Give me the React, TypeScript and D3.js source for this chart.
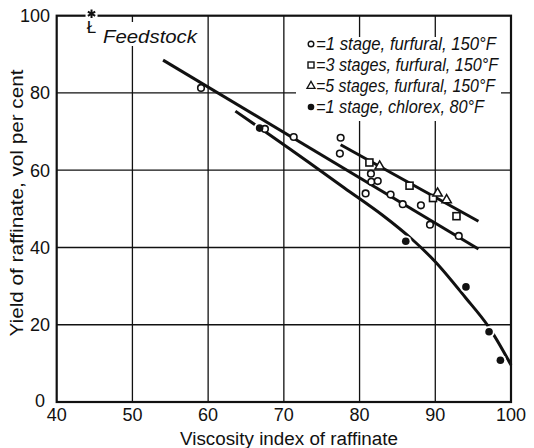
import React from "react";
import * as d3 from "d3";

const xTicks = [40, 50, 60, 70, 80, 90, 100];
const yTicks = [0, 20, 40, 60, 80, 100];

// 1 stage, furfural, 150F (open circles)
const furfural1 = [
  [59.06, 81.3], [67.5, 70.7], [71.3, 68.6], [77.5, 68.4], [77.4, 64.3],
  [81.5, 59.1], [81.55, 57.0], [82.4, 57.2], [80.8, 54.0], [84.1, 53.7],
  [85.7, 51.2], [88.1, 50.9], [89.3, 45.9], [93.1, 43.0],
];
// 3 stages, furfural (open squares)
const furfural3 = [[81.3, 62.0], [86.6, 56.0], [89.7, 52.8], [92.8, 48.1]];
// 5 stages, furfural (open triangles)
const furfural5 = [[82.65, 61.0], [90.3, 54.0], [91.5, 52.3]];
// 1 stage, chlorex, 80F (filled dots)
const chlorex = [[66.8, 70.9], [86.1, 41.6], [94.05, 29.8], [97.1, 18.2], [98.6, 10.8]];

// fitted lines
const line1 = [[54.05, 88.5], [95.7, 39.6]];
const line2 = [[77.5, 66.6], [95.7, 46.8]];
const chlorexCurve = [
  [63.6, 75.3], [70.8, 65.5], [78, 55.4], [83, 48.4], [87, 42.0],
  [90, 36.3], [94, 27.0], [97, 19.6], [100, 9.6],
];
const feedstock = [44.6, 100];

const legendLabels = [
  "=1 stage, furfural, 150°F",
  "=3 stages, furfural, 150°F",
  "=5 stages, furfural, 150°F",
  "=1 stage, chlorex, 80°F",
];
const legendWidths = [180, 182, 179, 168];

export default function App() {
  const x = d3.scaleLinear().domain([40, 100]).range([56.7, 511]);
  const y = d3.scaleLinear().domain([0, 100]).range([402, 15.7]);
  const line = d3.line<number[]>().x((d) => x(d[0])).y((d) => y(d[1]));
  const curve = d3
    .line<number[]>()
    .x((d) => x(d[0]))
    .y((d) => y(d[1]))
    .curve(d3.curveCatmullRom);
  const ink = "#111";
  const font = "'Liberation Sans', Arial, sans-serif";
  const tri = d3.symbol().type(d3.symbolTriangle).size(38)();
  const star = d3.symbol().type(d3.symbolAsterisk).size(50)();

  return (
    <div style={{ position: "absolute", left: 0, top: 0 }}>
      <svg width={534} height={448} style={{ display: "block", background: "#fff" }}>
        <defs>
          <mask id="gapMask" maskUnits="userSpaceOnUse" x={0} y={0} width={534} height={448}>
            <rect x={0} y={0} width={534} height={448} fill="#fff" />
            {chlorex.map((d, i) => (
              <circle key={i} cx={x(d[0])} cy={y(d[1])} r={5.8} fill="#000" />
            ))}
          </mask>
        </defs>
        {/* grid */}
        {xTicks.slice(1, -1).map((t) => (
          <line key={"gx" + t} x1={x(t)} x2={x(t)} y1={y(0)} y2={y(100)} stroke={ink} strokeWidth={1.3} />
        ))}
        {yTicks.slice(1, -1).map((t) => (
          <line key={"gy" + t} x1={x(40)} x2={x(100)} y1={y(t)} y2={y(t)} stroke={ink} strokeWidth={1.3} />
        ))}
        {/* white boxes behind labels */}
        <rect x={296} y={37} width={205} height={84} fill="#fff" />
        <rect x={101} y={22} width={100} height={24} fill="#fff" />
        {/* frame */}
        <rect x={x(40)} y={y(100)} width={x(100) - x(40)} height={y(0) - y(100)} fill="none" stroke={ink} strokeWidth={2.2} />

        {/* fitted lines */}
        <path d={line(line1) || ""} stroke={ink} strokeWidth={3} fill="none" />
        <path d={line(line2) || ""} stroke={ink} strokeWidth={3} fill="none" />
        <path d={curve(chlorexCurve) || ""} stroke={ink} strokeWidth={3} fill="none" mask="url(#gapMask)" />

        {/* markers */}
        {furfural1.map((d, i) => (
          <circle key={"c" + i} cx={x(d[0])} cy={y(d[1])} r={3.3} fill="#fff" stroke={ink} strokeWidth={1.6} />
        ))}
        {furfural3.map((d, i) => (
          <rect key={"s" + i} x={x(d[0]) - 3.5} y={y(d[1]) - 3.5} width={7} height={7} fill="#fff" stroke={ink} strokeWidth={1.6} />
        ))}
        {furfural5.map((d, i) => (
          <path key={"t" + i} d={tri || ""} transform={`translate(${x(d[0])},${y(d[1])})`} fill="#fff" stroke={ink} strokeWidth={1.5} />
        ))}
        {chlorex.map((d, i) => (
          <circle key={"f" + i} cx={x(d[0])} cy={y(d[1])} r={3.8} fill={ink} />
        ))}

        {/* feedstock */}
        <rect x={x(feedstock[0]) - 6} y={y(feedstock[1]) - 2} width={12} height={4} fill="#fff" />
        <path d={star || ""} transform={`translate(${x(feedstock[0])},${y(feedstock[1]) - 2})`} fill="none" stroke={ink} strokeWidth={2} />
        <text x={x(feedstock[0])} y={y(feedstock[1]) + 17} textAnchor="middle" fontFamily={font} fontSize={17} fill={ink}>Ł</text>
        <text x={103} y={43} fontFamily={font} fontStyle="italic" fontSize={19} fill={ink} textLength={94} lengthAdjust="spacingAndGlyphs">Feedstock</text>

        {/* legend */}
        {legendLabels.map((lab, i) => {
          const by = 50 + i * 21;
          const mx = 311;
          const my = by - 6;
          return (
            <g key={"lg" + i}>
              {i === 0 && <circle cx={mx} cy={my} r={2.8} fill="#fff" stroke={ink} strokeWidth={1.4} />}
              {i === 1 && <rect x={mx - 3} y={my - 3} width={6} height={6} fill="#fff" stroke={ink} strokeWidth={1.4} />}
              {i === 2 && <path d={d3.symbol().type(d3.symbolTriangle).size(28)() || ""} transform={`translate(${mx},${my})`} fill="#fff" stroke={ink} strokeWidth={1.3} />}
              {i === 3 && <circle cx={mx} cy={my} r={3.3} fill={ink} />}
              <text x={316} y={by} fontFamily={font} fontStyle="italic" fontSize={19} fill={ink} textLength={legendWidths[i]} lengthAdjust="spacingAndGlyphs">{lab}</text>
            </g>
          );
        })}

        {/* axes labels */}
        {xTicks.map((t) => (
          <text key={"xt" + t} x={x(t)} y={421} textAnchor="middle" fontFamily={font} fontSize={18} fill={ink}>{t}</text>
        ))}
        {yTicks.map((t) => (
          <text key={"yt" + t} x={t === 0 ? 45 : 50} y={y(t) + (t === 0 ? 5 : 6.5)} textAnchor="end" fontFamily={font} fontSize={18} fill={ink}>{t}</text>
        ))}
        <text x={289} y={445} textAnchor="middle" fontFamily={font} fontSize={18} fill={ink} textLength={218} lengthAdjust="spacingAndGlyphs">Viscosity index of raffinate</text>
        <text transform="translate(23,203) rotate(-90)" textAnchor="middle" fontFamily={font} fontSize={18} fill={ink} textLength={267} lengthAdjust="spacingAndGlyphs">Yield of raffinate, vol per cent</text>
      </svg>
    </div>
  );
}
